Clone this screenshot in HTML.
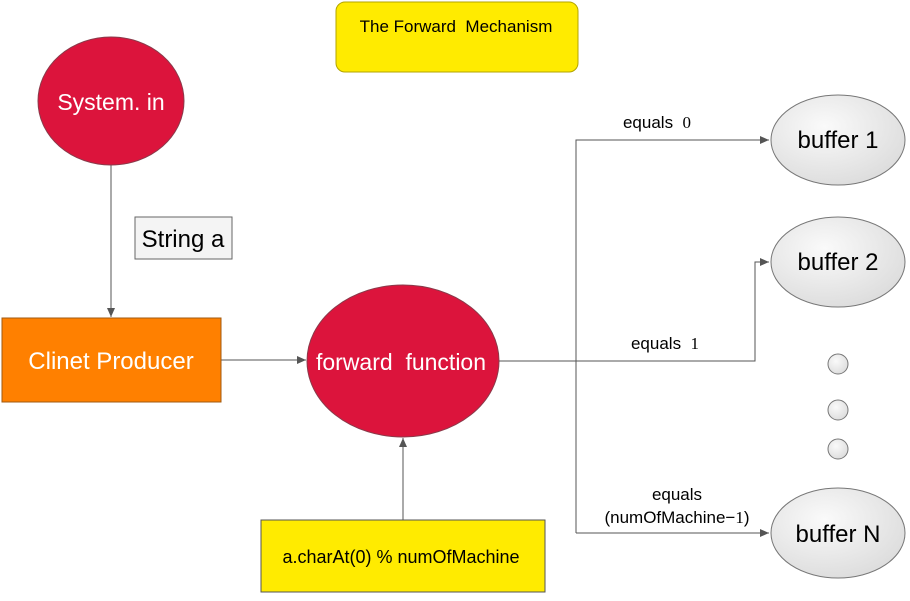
<!DOCTYPE html>
<html><head><meta charset="utf-8"><style>html,body{margin:0;padding:0;background:#fff}svg{display:block}text{white-space:pre}</style></head>
<body>
<svg width="910" height="601" viewBox="0 0 910 601" xmlns="http://www.w3.org/2000/svg" font-family="Liberation Sans, Arial, sans-serif">
<defs>
<marker id="a" markerWidth="10" markerHeight="8" refX="9" refY="4" orient="auto" markerUnits="userSpaceOnUse"><path d="M0,0 L9,4 L0,8 Z" fill="#555"/></marker>
<radialGradient id="g" cx="0.4" cy="0.35" r="0.7"><stop offset="0" stop-color="#fafafa"/><stop offset="1" stop-color="#dcdcdc"/></radialGradient>
</defs>
<rect x="336" y="2" width="242" height="70" rx="9" fill="#FFEB00" stroke="#b3a400"/>
<text x="456" y="32" font-size="17" text-anchor="middle" fill="#000">The Forward  Mechanism</text>
<g stroke="#555" stroke-width="1" fill="none">
<line x1="111" y1="165" x2="111" y2="317" marker-end="url(#a)"/>
<line x1="221" y1="360" x2="306" y2="360" marker-end="url(#a)"/>
<line x1="403" y1="520" x2="403" y2="438" marker-end="url(#a)"/>
<polyline points="499,361 755,361 755,262 769,262" marker-end="url(#a)"/>
<polyline points="576,533 576,140 769,140" marker-end="url(#a)"/>
<line x1="576" y1="533" x2="769" y2="533" marker-end="url(#a)"/>
</g>
<ellipse cx="111" cy="101" rx="73" ry="64" fill="#DC143C" stroke="#8a3a4a"/>
<text x="111" y="110" font-size="23" fill="#fff" text-anchor="middle">System. in</text>
<rect x="135" y="217" width="97" height="42" fill="#f4f4f4" stroke="#666"/>
<text x="183" y="247" font-size="24" text-anchor="middle">String a</text>
<rect x="2" y="318" width="219" height="84" fill="#FF8000" stroke="#a05a10"/>
<text x="111" y="369" font-size="24" fill="#fff" text-anchor="middle">Clinet Producer</text>
<ellipse cx="403" cy="361" rx="96" ry="76" fill="#DC143C" stroke="#8a3a4a"/>
<text x="401" y="370" font-size="23" fill="#fff" text-anchor="middle">forward  function</text>
<rect x="261" y="520" width="284" height="72" fill="#FFEB00" stroke="#555"/>
<text x="401" y="563" font-size="18" text-anchor="middle">a.charAt(0) % numOfMachine</text>
<g fill="url(#g)" stroke="#777">
<ellipse cx="838" cy="140" rx="67" ry="45"/>
<ellipse cx="838" cy="262" rx="67" ry="45"/>
<ellipse cx="838" cy="533" rx="67" ry="45"/>
<circle cx="838" cy="364" r="10"/>
<circle cx="838" cy="410" r="10"/>
<circle cx="838" cy="449" r="10"/>
</g>
<g font-size="24" text-anchor="middle">
<text x="838" y="148">buffer 1</text>
<text x="838" y="270">buffer 2</text>
<text x="838" y="542">buffer N</text>
</g>
<g font-size="17" text-anchor="middle">
<text x="657" y="128">equals  <tspan font-family="Liberation Serif, serif">0</tspan></text>
<text x="665" y="349">equals  <tspan font-family="Liberation Serif, serif">1</tspan></text>
<text x="677" y="500">equals</text>
<text x="677" y="523">(numOfMachine−<tspan font-family="Liberation Serif, serif">1</tspan>)</text>
</g>
</svg>
</body></html>
